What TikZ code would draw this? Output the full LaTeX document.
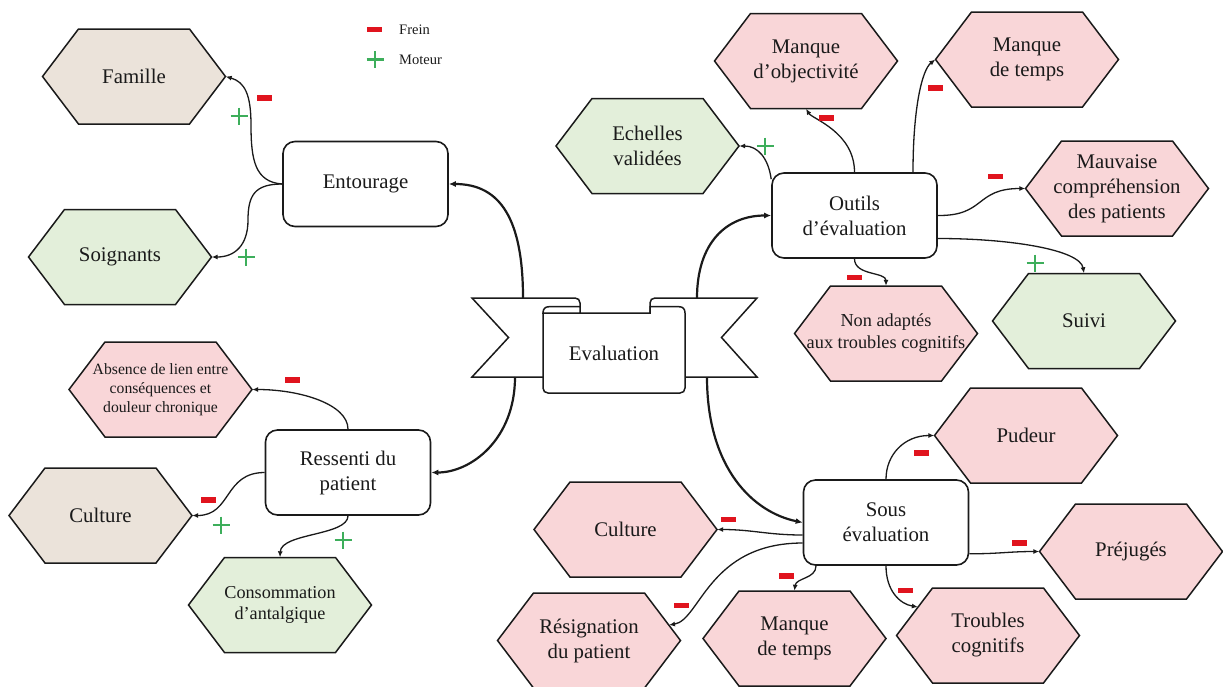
\documentclass[tikz,border=0pt]{standalone}
\usepackage{fontspec}
\setmainfont{Liberation Serif}
\usetikzlibrary{arrows.meta,calc}
\definecolor{beigeF}{HTML}{EBE3DA}
\definecolor{greenF}{HTML}{E3EFDA}
\definecolor{pinkF}{HTML}{F9D6D8}
\definecolor{signR}{HTML}{E0141E}
\definecolor{signG}{HTML}{3DAE5B}
\definecolor{inkC}{HTML}{1A1A1A}
\newcommand\mainf{\fontsize{20.8}{25}\selectfont}
\newcommand\hexnode[6]{%
  \filldraw[hexline,fill=#4] (#2-91.5,#3) -- (#2-55.5,#3-47.5) -- (#2+55.5,#3-47.5) -- (#2+91.5,#3) -- (#2+55.5,#3+47.5) -- (#2-55.5,#3+47.5) -- cycle;
  \node[hextext,#5] (#1) at (#2,#3) {#6};}
\tikzset{
  hexline/.style={draw=inkC, line width=1.5pt, line join=miter},
  hextext/.style={minimum width=183pt, minimum height=95pt, inner sep=0pt, align=center, text=inkC, font=\mainf},
  roundbox/.style={draw=inkC, line width=1.6pt, rounded corners=12pt, fill=white, minimum width=165pt, minimum height=85pt, inner sep=0pt, align=center, text=inkC, font=\mainf},
  mainlink/.style={line width=2.2pt, draw=inkC, -{Latex[length=7pt,width=6pt]}},
  sublink/.style={line width=1.3pt, draw=inkC, -{Latex[length=6pt,width=5pt]}},
  bline/.style={draw=inkC, line width=1.5pt, line join=miter, fill=white},
  frein/.pic={\fill[signR] (-7.5,-2.8) rectangle (7.5,2.8);},
  moteur/.pic={\draw[signG,line width=2.4pt] (-8.5,0) -- (8.5,0) (0,-8.5) -- (0,8.5);},
  legtext/.style={anchor=west, font=\fontsize{14.5}{17}\selectfont, text=inkC, inner sep=0pt}
}
\begin{document}
\begin{tikzpicture}[x=1pt,y=-1pt]
\useasboundingbox (0,0) rectangle (1223,686);

% legend
\pic at (374,29.5) {frein};
\node[legtext] (legF) at (399,29.5) {Frein};
\pic at (375,59.5) {moteur};
\node[legtext] (legM) at (399,59.5) {Moteur};

% banner
\filldraw[bline] (472,298) -- (575,298) .. controls (578,298) and (580,300) .. (580,303) -- (580,377) -- (472,377) -- (508.5,337.5) -- cycle;
\filldraw[bline] (757,298) -- (655,298) .. controls (652,298) and (650,300) .. (650,303) -- (650,377) -- (757,377) -- (721.5,337.5) -- cycle;
\filldraw[bline] (543,313) -- (543,388) .. controls (543,391) and (545,393) .. (548,393) -- (680,393) .. controls (683,393) and (685,391) .. (685,388) -- (685,313) .. controls (685,309) and (683,306.7) .. (679,306.7) -- (650,306.7) -- (650,313) -- cycle;
\filldraw[bline] (580,313) -- (580,306.7) -- (549,306.7) .. controls (545,306.7) and (543,309) .. (543,313) -- cycle;
\node[text=inkC, font=\mainf] (eval) at (614,353) {Evaluation};
\coordinate (bTL) at (523,298);
\coordinate (bBL) at (515,377);
\coordinate (bTR) at (697,298);
\coordinate (bBR) at (707,377);

% boxes
\node[roundbox] (ent) at (365.5,184) {Entourage};
\node[roundbox] (out) at (854.5,215.5) {Outils\\d’évaluation};
\node[roundbox] (res) at (348,472.5) {Ressenti du\\patient};
\node[roundbox] (sous) at (886,522.5) {Sous\\évaluation};

% hexagons
\hexnode{fam}{134}{76.5}{beigeF}{}{Famille}
\hexnode{soi}{120}{257}{greenF}{}{Soignants}
\hexnode{ech}{647.5}{146}{greenF}{}{Echelles\\validées}
\hexnode{obj}{806}{61}{pinkF}{}{Manque\\d’objectivité}
\hexnode{tpsA}{1027}{59.5}{pinkF}{}{Manque\\de temps}
\hexnode{mau}{1117}{188.5}{pinkF}{}{Mauvaise\\compréhension\\des patients}
\hexnode{suivi}{1084}{321}{greenF}{}{Suivi}
\hexnode{nonad}{886}{333.5}{pinkF}{font=\fontsize{18.3}{22}\selectfont}{Non adaptés\\aux troubles cognitifs}
\hexnode{pud}{1026}{435.5}{pinkF}{}{Pudeur}
\hexnode{prej}{1131}{551.5}{pinkF}{}{Préjugés}
\hexnode{trou}{988}{635.5}{pinkF}{}{Troubles\\cognitifs}
\hexnode{tpsB}{794.5}{638.5}{pinkF}{}{Manque\\de temps}
\hexnode{culP}{625.5}{529.5}{pinkF}{}{Culture}
\hexnode{resig}{589}{640.5}{pinkF}{}{Résignation\\du patient}
\hexnode{abs}{160.5}{389.5}{pinkF}{font=\fontsize{15.7}{19}\selectfont}{Absence de lien entre\\conséquences et\\douleur chronique}
\hexnode{culB}{100.5}{515.5}{beigeF}{}{Culture}
\hexnode{cons}{280}{605}{greenF}{font=\fontsize{18.2}{21.7}\selectfont}{Consommation\\d’antalgique}

% main links
\draw[mainlink] (bTL) .. controls +(0,-78) and +(52,0) .. (ent.east);
\draw[mainlink] (bBL) .. controls +(0,62) and +(40,0) .. (res.east);
\draw[mainlink] (bTR) .. controls +(0,-55) and +(-45,0) .. (out.west);
\draw[mainlink] (bBR) .. controls +(0,92) and +(-49,-10) .. (sous.west);

% Entourage
\draw[sublink] (ent.west) .. controls (255,182) and (251,160) .. (251,125) .. controls (251,95) and (245,82) .. (fam.east);
\draw[sublink] (ent.west) .. controls (255,184) and (248,195) .. (248,220) .. controls (248,245) and (235,257) .. (soi.east);

% Outils
\draw[sublink] ($(out.north west)+(0,7)$) .. controls +(-3,-22) and +(18,0) .. (ech.east);
\draw[sublink] (out.north) .. controls +(0,-40) and +(6,10) .. (obj.south);
\draw[sublink] ($(out.north)+(58.5,0)$) .. controls +(0,-63) and +(-13.5,10.5) .. (tpsA.west);
\draw[sublink] (out.east) .. controls +(48,0.5) and +(-50.5,0) .. (mau.west);
\draw[sublink] ($(out.east)+(0,23)$) .. controls +(73,0) and +(-4,-23.5) .. (suivi.north);
\draw[sublink] (out.south) .. controls +(0,17) and +(0,-14) .. (nonad.north);

% Sous evaluation
\draw[sublink] (sous.north) .. controls +(0,-25) and +(-29.5,0) .. (pud.west);
\draw[sublink] ($(sous.south east)+(0,-12)$) .. controls +(30,0) and +(-30,0) .. (prej.west);
\draw[sublink] (sous.south) .. controls +(0,25) and +(-18,-3) .. ($(trou.west)+(21.6,-28.5)$);
\draw[sublink] ($(sous.south)+(-70,0)$) .. controls +(0,13) and +(1.5,-13) .. (tpsB.north);
\draw[sublink] ($(sous.west)+(0,12.5)$) .. controls +(-35,0) and +(35,0) .. (culP.east);
\draw[sublink] ($(sous.west)+(0,20.5)$) .. controls +(-94,0) and +(31.2,-5) .. ($(resig.east)+(-11.7,-15.5)$);

% Ressenti
\draw[sublink] (res.north) .. controls +(0,-25) and +(48,0) .. (abs.east);
\draw[sublink] (res.west) .. controls +(-41,0) and +(39.5,0) .. (culB.east);
\draw[sublink] (res.south) .. controls +(0,20) and +(1,-24.5) .. (cons.north);

% signs
\pic at (264.5,98) {frein};
\pic at (239,116) {moteur};
\pic at (246,257) {moteur};
\pic at (765,146) {moteur};
\pic at (826.5,118) {frein};
\pic at (935.5,88) {frein};
\pic at (995.5,176.5) {frein};
\pic at (1035,263) {moteur};
\pic at (854.5,277.5) {frein};
\pic at (921,453) {frein};
\pic at (1019.5,543) {frein};
\pic at (905.5,590.5) {frein};
\pic at (786.5,576) {frein};
\pic at (728.5,519.5) {frein};
\pic at (681.5,605.5) {frein};
\pic at (292.5,380) {frein};
\pic at (208,500) {frein};
\pic at (221,525) {moteur};
\pic at (343,540) {moteur};
\end{tikzpicture}
\end{document}
